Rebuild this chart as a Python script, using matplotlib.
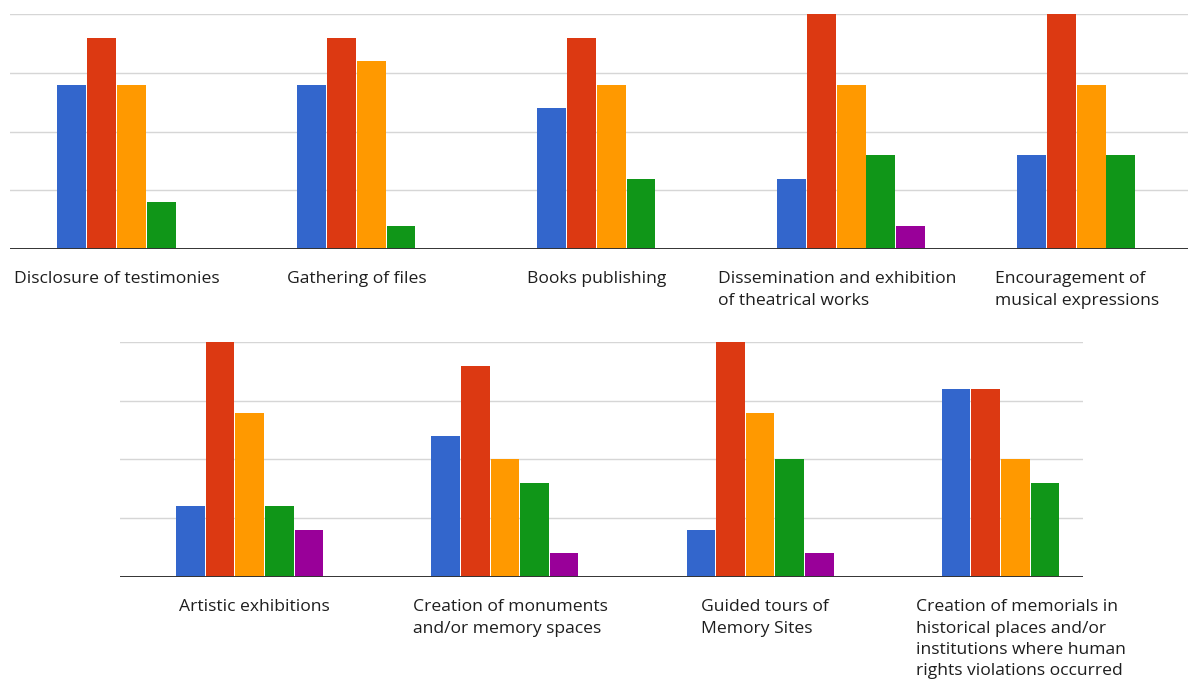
import numpy as np
import matplotlib.pyplot as plt

# categories, two stacked charts
top_groups = [
    "Disclosure of testimonies",
    "Gathering of files",
    "Books publishing",
    "Dissemination and exhibition\nof theatrical works",
    "Encouragement of\nmusical expressions",
]
bottom_groups = [
    "Artistic exhibitions",
    "Creation of monuments\nand/or memory spaces",
    "Guided tours of\nMemory Sites",
    "Creation of memorials in\nhistorical places and/or\ninstitutions where human\nrights violations occurred",
]

# answers per series (blue, red, orange, green, purple)
top_blue = [7, 7, 6, 3, 4]
top_red = [9, 9, 9, 10, 10]
top_orange = [7, 8, 7, 7, 7]
top_green = [2, 1, 3, 4, 4]
top_purple = [0, 0, 0, 1, 0]

bottom_blue = [3, 6, 2, 8]
bottom_red = [10, 9, 10, 8]
bottom_orange = [7, 5, 7, 5]
bottom_green = [3, 4, 5, 4]
bottom_purple = [2, 1, 1, 0]

y_ticks = [0, 2.5, 5, 7.5, 10]

COLORS = ['#3366CC', '#DC3912', '#FF9900', '#109618', '#990099']
FONT = ['Open Sans', 'DejaVu Sans']


def draw_panel(ax, groups, series, bar_w, xlim, label_shift=0.0):
    x = np.arange(len(groups))
    n = len(series)
    for k, (vals, col) in enumerate(zip(series, COLORS)):
        ax.bar(x + (k - (n - 1) / 2) * bar_w, vals, width=bar_w * 0.97,
               color=col, zorder=2)

    ax.set_xlim(*xlim)
    ax.set_ylim(0, 10)
    ax.set_yticks(y_ticks)
    ax.set_yticklabels([])
    ax.grid(axis='y', color='#d6d6d6', lw=1, zorder=0)
    ax.axhline(0, color='#333333', lw=1.4, zorder=3)
    for s in ax.spines.values():
        s.set_visible(False)
    ax.tick_params(axis='both', length=0)
    ax.tick_params(axis='x', pad=16)

    ax.set_xticks(x + label_shift)
    ax.set_xticklabels(groups, fontsize=12.6, color='#1e1e1e', family=FONT,
                       linespacing=1.45, multialignment='left', va='top')


fig = plt.figure(figsize=(11.88, 6.85), dpi=100)
fig.patch.set_facecolor('white')

ax_top = fig.add_axes([0.0084, 0.6365, 0.9916, 0.343])
draw_panel(ax_top, top_groups,
           [top_blue, top_red, top_orange, top_green, top_purple],
           0.124, (-0.506, 4.404), label_shift=-0.06)

ax_bot = fig.add_axes([0.101, 0.1577, 0.8106, 0.343])
draw_panel(ax_bot, bottom_groups,
           [bottom_blue, bottom_red, bottom_orange, bottom_green, bottom_purple],
           0.116, (-0.508, 3.265), label_shift=0.02)

fig.savefig('out.png', dpi=100, facecolor='white')
plt.close(fig)
